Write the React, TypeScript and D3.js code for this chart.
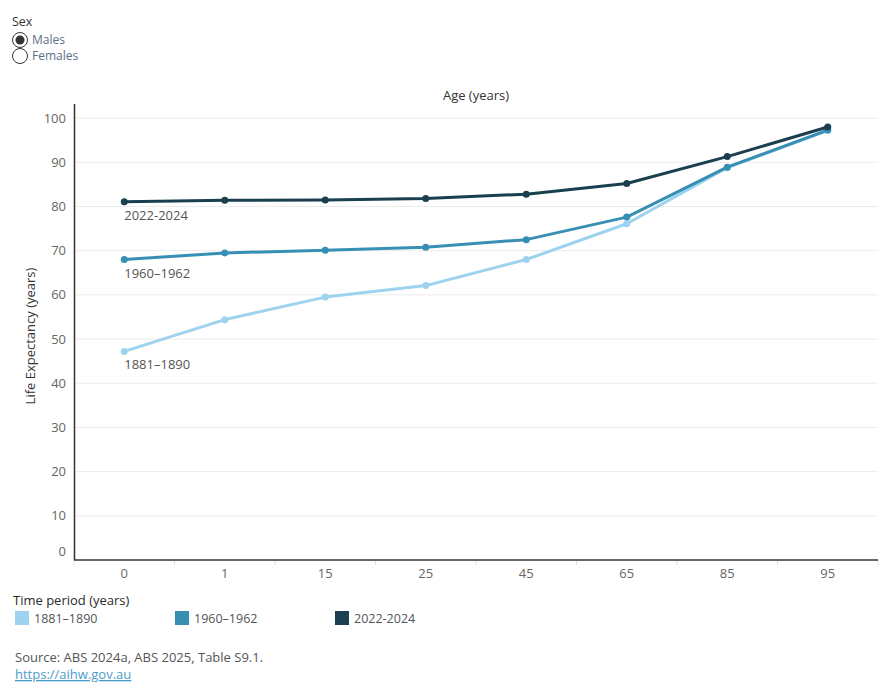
import * as d3 from 'd3';
import React, { useEffect, useRef } from 'react';

// Age groups on the x axis (categorical)
const ages = ['0', '1', '15', '25', '45', '65', '85', '95'];

// Life expectancy (years) for males, by time period
const period1881 = [47.2, 54.4, 59.5, 62.1, 68.0, 76.1, 88.8, 97.2];
const period1960 = [68.0, 69.5, 70.1, 70.8, 72.5, 77.6, 88.9, 97.3];
const period2022 = [81.1, 81.4, 81.5, 81.8, 82.8, 85.2, 91.3, 98.0];

const periodNames = ['1881–1890', '1960–1962', '2022-2024'];
const periodColors = ['#9dd3ef', '#378fb4', '#1a3f4e'];

const yTicks = [0, 10, 20, 30, 40, 50, 60, 70, 80, 90, 100];

const FONT = '"Open Sans", "Noto Sans", sans-serif';

function LifeExpectancyChart() {
    const svgRef = useRef<SVGSVGElement>(null);

    useEffect(() => {
        const width = 890;
        const height = 700;
        const margin = { top: 104, right: 12, bottom: 140, left: 74 };

        const root = d3.select(svgRef.current);
        root.selectAll('*').remove();
        root.attr('width', width).attr('height', height)
            .style('font-family', FONT);

        // Sex selector (static radio buttons)
        root.append('text').attr('x', 12).attr('y', 26)
            .attr('font-size', 12.5).attr('fill', '#333').text('Sex');
        const radios = [['Males', true], ['Females', false]] as const;
        radios.forEach(([label, checked], i) => {
            const cy = 40 + i * 16;
            root.append('circle').attr('cx', 20).attr('cy', cy).attr('r', 7.5)
                .attr('fill', 'white').attr('stroke', '#333').attr('stroke-width', 1);
            if (checked) {
                root.append('circle').attr('cx', 20).attr('cy', cy).attr('r', 4.5)
                    .attr('fill', '#333');
            }
            root.append('text').attr('x', 32).attr('y', cy + 4)
                .attr('font-size', 12).attr('fill', '#5b6f86').text(label);
        });

        const innerW = width - margin.left - margin.right;
        const innerH = height - margin.top - margin.bottom;

        const x = d3.scaleBand<string>().domain(ages).range([0, innerW]);
        const y = d3.scaleLinear().domain([0, 103.2]).range([innerH, 0]);

        const g = root.append('g')
            .attr('transform', `translate(${margin.left},${margin.top})`);

        // horizontal gridlines
        g.append('g')
            .selectAll('line')
            .data(yTicks.filter((t) => t > 0))
            .join('line')
            .attr('x1', 0).attr('x2', innerW)
            .attr('y1', (d) => y(d)).attr('y2', (d) => y(d))
            .attr('stroke', '#ececec').attr('stroke-width', 1);

        // y tick labels (0 is nudged up like the source)
        g.append('g')
            .selectAll('text')
            .data(yTicks)
            .join('text')
            .attr('x', -8)
            .attr('y', (d) => y(d) + (d === 0 ? -4 : 4.5))
            .attr('text-anchor', 'end')
            .attr('font-size', 13).attr('fill', '#666')
            .text((d) => d);

        // x axis tick marks at band edges
        g.append('g')
            .selectAll('line')
            .data(ages.map((a) => x(a) as number).concat([innerW]))
            .join('line')
            .attr('x1', (d) => d).attr('x2', (d) => d)
            .attr('y1', innerH + 1).attr('y2', innerH + 5)
            .attr('stroke', '#ddd');

        // x labels
        g.append('g')
            .selectAll('text')
            .data(ages)
            .join('text')
            .attr('x', (d) => (x(d) as number) + x.bandwidth() / 2)
            .attr('y', innerH + 18)
            .attr('text-anchor', 'middle')
            .attr('font-size', 13).attr('fill', '#666')
            .text((d) => d);

        // axis lines
        g.append('line').attr('x1', 0.5).attr('x2', 0.5).attr('y1', 0).attr('y2', innerH)
            .attr('stroke', '#333').attr('stroke-width', 1.5);
        g.append('line').attr('x1', 0).attr('x2', innerW).attr('y1', innerH).attr('y2', innerH)
            .attr('stroke', '#333').attr('stroke-width', 1.5);

        // axis titles
        root.append('text')
            .attr('x', margin.left + innerW / 2).attr('y', 100)
            .attr('text-anchor', 'middle').attr('font-size', 13).attr('fill', '#333')
            .text('Age (years)');
        root.append('text')
            .attr('transform', `translate(35,${margin.top + innerH / 2 + 4}) rotate(-90)`)
            .attr('text-anchor', 'middle').attr('font-size', 13).attr('fill', '#333')
            .text('Life Expectancy (years)');

        // series lines and markers
        const seriesList = [period1881, period1960, period2022];
        const cx = (i: number) => (x(ages[i]) as number) + x.bandwidth() / 2;
        const line = d3.line<number>()
            .x((_, i) => cx(i))
            .y((d) => y(d));

        seriesList.forEach((values, k) => {
            g.append('path')
                .datum(values)
                .attr('fill', 'none')
                .attr('stroke', periodColors[k])
                .attr('stroke-width', 3)
                .attr('stroke-linejoin', 'round')
                .attr('d', line);
            g.append('g')
                .selectAll('circle')
                .data(values)
                .join('circle')
                .attr('cx', (_, i) => cx(i))
                .attr('cy', (d) => y(d))
                .attr('r', 3.5)
                .attr('fill', periodColors[k]);
            // period label under the first point
            g.append('text')
                .attr('x', cx(0))
                .attr('y', y(values[0]) + 18)
                .attr('font-size', 13).attr('fill', '#555')
                .text(periodNames[k]);
        });

        // legend
        root.append('text').attr('x', 13).attr('y', 605)
            .attr('font-size', 13).attr('font-weight', 500).attr('fill', '#2a2a2a')
            .text('Time period (years)');
        const legendX = [15, 175, 335];
        periodNames.forEach((name, k) => {
            root.append('rect').attr('x', legendX[k]).attr('y', 611)
                .attr('width', 14).attr('height', 14).attr('fill', periodColors[k]);
            root.append('text').attr('x', legendX[k] + 19).attr('y', 623)
                .attr('font-size', 12.5).attr('fill', '#555').text(name);
        });

        // source and link
        root.append('text').attr('x', 15).attr('y', 662)
            .attr('font-size', 13).attr('fill', '#555')
            .text('Source: ABS 2024a, ABS 2025, Table S9.1.');
        root.append('text').attr('x', 15).attr('y', 679)
            .attr('font-size', 13).attr('fill', '#4a9cc9')
            .attr('text-decoration', 'underline')
            .text('https://aihw.gov.au');
    }, []);

    return <svg ref={svgRef} style={{ display: 'block' }} />;
}

export default function App() {
    return (
        <div style={{ margin: -8 }}>
            <LifeExpectancyChart />
        </div>
    );
}
